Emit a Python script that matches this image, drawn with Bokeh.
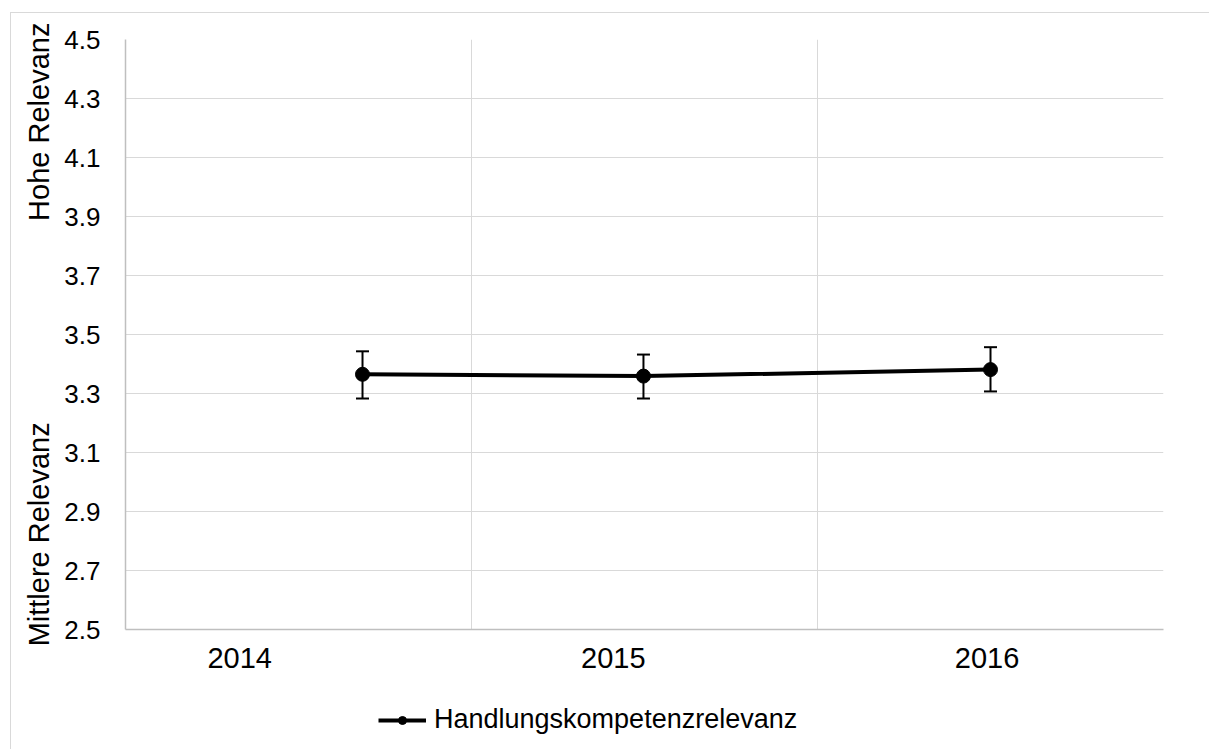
from bokeh.plotting import figure
from bokeh.layouts import column
from bokeh.models import (ColumnDataSource, Whisker, TeeHead, FixedTicker, Range1d,
                          Legend, LegendItem)
from bokeh.embed import file_html
from bokeh.resources import INLINE

# data
years = ["2014", "2015", "2016"]
x_point = [0.685, 1.497, 2.5]          # point position within category axis
x_label = [0.33, 1.41, 2.49]           # tick label position
means = [3.365, 3.359, 3.381]
lower = [3.283, 3.283, 3.307]
upper = [3.443, 3.432, 3.457]
y_ticks = [2.5, 2.7, 2.9, 3.1, 3.3, 3.5, 3.7, 3.9, 4.1, 4.3, 4.5]
series_name = "Handlungskompetenzrelevanz"
y_title_low = "Mittlere Relevanz"
y_title_high = "Hohe Relevanz"

FONT = "Liberation Sans"
GRID = "#d9d9d9"
AXIS = "#bfbfbf"

p = figure(frame_width=1038, frame_height=590, output_backend="svg", toolbar_location=None,
           x_range=Range1d(0, 3), y_range=Range1d(2.5, 4.5),
           min_border_left=114, min_border_right=46, min_border_top=26, min_border_bottom=60)
p.outline_line_color = None
p.background_fill_color = "white"
p.border_fill_color = "white"

# grids
p.xgrid.ticker = FixedTicker(ticks=[0, 1, 2, 3])
p.xgrid.grid_line_color = GRID
p.ygrid.ticker = FixedTicker(ticks=y_ticks)
p.ygrid.grid_line_color = GRID

# axes
p.xaxis.ticker = FixedTicker(ticks=x_label)
p.xaxis.major_label_overrides = {x: y for x, y in zip(x_label, years)}
p.yaxis.ticker = FixedTicker(ticks=y_ticks)
p.yaxis.major_label_overrides = {t: f"{t:.1f}" for t in y_ticks}
for ax in (p.xaxis, p.yaxis):
    ax.major_tick_line_color = None
    ax.minor_tick_line_color = None
    ax.axis_line_color = AXIS
    ax.axis_line_width = 1.5
    ax.major_label_text_font = FONT
    ax.major_label_text_color = "black"
p.xaxis.major_label_text_font_size = "29px"
p.yaxis.major_label_text_font_size = "26px"
p.xaxis.major_label_standoff = 12
p.yaxis.major_label_standoff = 19

p.yaxis.axis_label = y_title_low + "\u00a0" * 25 + y_title_high
p.yaxis.axis_label_text_font = FONT
p.yaxis.axis_label_text_font_size = "29px"
p.yaxis.axis_label_text_font_style = "normal"
p.yaxis.axis_label_text_color = "black"
p.yaxis.axis_label_standoff = 6

src = ColumnDataSource(dict(x=x_point, y=means, lo=lower, up=upper))

w = Whisker(source=src, base="x", lower="lo", upper="up", dimension="height",
            line_color="black", line_width=2,
            lower_head=TeeHead(size=13, line_color="black", line_width=2),
            upper_head=TeeHead(size=13, line_color="black", line_width=2))
p.add_layout(w)

ln = p.line("x", "y", source=src, line_color="black", line_width=4)
cr = p.scatter("x", "y", source=src, size=14, fill_color="black", line_color="black")

# legend strip below the chart (series drawn outside its visible ranges, legend only)
q = figure(frame_width=1198, frame_height=60, output_backend="svg", toolbar_location=None,
           x_range=Range1d(0, 1), y_range=Range1d(0, 1),
           x_axis_type=None, y_axis_type=None,
           min_border_left=0, min_border_right=0, min_border_top=0, min_border_bottom=0)
q.outline_line_color = None
q.grid.visible = False
q.background_fill_color = "white"
q.border_fill_color = "white"
lq = q.line("x", "y", source=src, line_color="black", line_width=4)
cq = q.scatter("x", "y", source=src, size=14, fill_color="black", line_color="black")

legend = Legend(items=[LegendItem(label=series_name, renderers=[lq, cq])],
                location=(367, 14), orientation="horizontal",
                label_text_font=FONT, label_text_font_size="27px",
                label_text_color="black",
                glyph_width=48, glyph_height=20, label_standoff=8,
                padding=0, margin=0, border_line_color=None,
                background_fill_alpha=0)
q.add_layout(legend, "center")

layout = column(p, q, spacing=0,
                styles={"border-left": "1px solid #d9d9d9", "border-top": "1px solid #d9d9d9",
                        "margin-left": "10px", "margin-top": "12px"})

open("out.html", "w").write(file_html(layout, INLINE))
